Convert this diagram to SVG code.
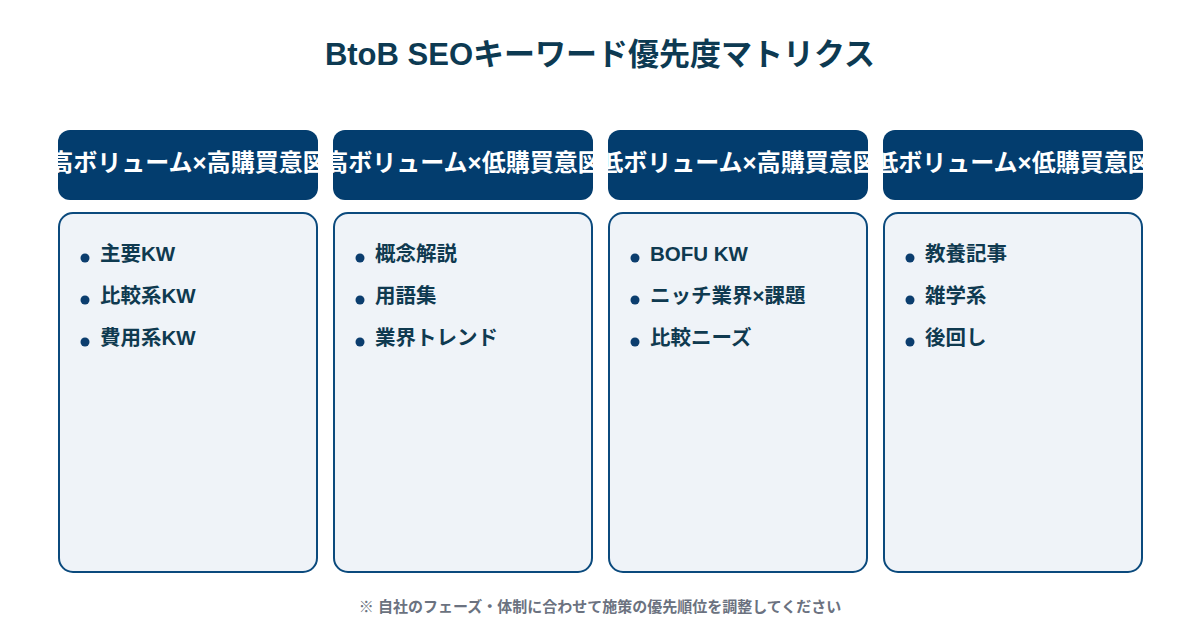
<svg xmlns="http://www.w3.org/2000/svg" width="1200" height="620" viewBox="0 0 1200 620">
<style>
text{font-family:"Liberation Sans","Noto Sans CJK JP",sans-serif;font-weight:700}
.title{font-size:31px;fill:#0d3a52}
.hd{fill:#033d6e}
.ht{font-size:24px;fill:#ffffff}
.body{fill:#eff3f8;stroke:#0b4a7d;stroke-width:2}
.dot{fill:#0b3d6e}
.it{font-size:20.5px;fill:#0f3a50}
.note{font-size:15px;fill:#6b7280}
</style>
<defs>
<clipPath id="c1"><rect x="58" y="130" width="260" height="70" rx="12"/></clipPath>
<clipPath id="c2"><rect x="333" y="130" width="260" height="70" rx="12"/></clipPath>
<clipPath id="c3"><rect x="608" y="130" width="260" height="70" rx="12"/></clipPath>
<clipPath id="c4"><rect x="883" y="130" width="260" height="70" rx="12"/></clipPath>
</defs>
<rect width="1200" height="620" fill="#ffffff"/>
<text class="title" x="600" y="65" text-anchor="middle">BtoB SEOキーワード優先度マトリクス</text>

<g id="col1">
<rect class="hd" x="58" y="130" width="260" height="70" rx="12"/>
<text class="ht" x="188" y="171" text-anchor="middle" clip-path="url(#c1)">高ボリューム×高購買意図</text>
<rect class="body" x="59" y="213" width="258" height="359" rx="14"/>
<circle class="dot" cx="85" cy="258" r="4.5"/><text class="it" x="100" y="261">主要KW</text>
<circle class="dot" cx="85" cy="300" r="4.5"/><text class="it" x="100" y="303">比較系KW</text>
<circle class="dot" cx="85" cy="342" r="4.5"/><text class="it" x="100" y="345">費用系KW</text>
</g>

<g id="col2">
<rect class="hd" x="333" y="130" width="260" height="70" rx="12"/>
<text class="ht" x="463" y="171" text-anchor="middle" clip-path="url(#c2)">高ボリューム×低購買意図</text>
<rect class="body" x="334" y="213" width="258" height="359" rx="14"/>
<circle class="dot" cx="360" cy="258" r="4.5"/><text class="it" x="375" y="261">概念解説</text>
<circle class="dot" cx="360" cy="300" r="4.5"/><text class="it" x="375" y="303">用語集</text>
<circle class="dot" cx="360" cy="342" r="4.5"/><text class="it" x="375" y="345">業界トレンド</text>
</g>

<g id="col3">
<rect class="hd" x="608" y="130" width="260" height="70" rx="12"/>
<text class="ht" x="738" y="171" text-anchor="middle" clip-path="url(#c3)">低ボリューム×高購買意図</text>
<rect class="body" x="609" y="213" width="258" height="359" rx="14"/>
<circle class="dot" cx="635" cy="258" r="4.5"/><text class="it" x="650" y="261">BOFU KW</text>
<circle class="dot" cx="635" cy="300" r="4.5"/><text class="it" x="650" y="303">ニッチ業界×課題</text>
<circle class="dot" cx="635" cy="342" r="4.5"/><text class="it" x="650" y="345">比較ニーズ</text>
</g>

<g id="col4">
<rect class="hd" x="883" y="130" width="260" height="70" rx="12"/>
<text class="ht" x="1013" y="171" text-anchor="middle" clip-path="url(#c4)">低ボリューム×低購買意図</text>
<rect class="body" x="884" y="213" width="258" height="359" rx="14"/>
<circle class="dot" cx="910" cy="258" r="4.5"/><text class="it" x="925" y="261">教養記事</text>
<circle class="dot" cx="910" cy="300" r="4.5"/><text class="it" x="925" y="303">雑学系</text>
<circle class="dot" cx="910" cy="342" r="4.5"/><text class="it" x="925" y="345">後回し</text>
</g>

<g id="connectors"></g>

<text class="note" x="600" y="612" text-anchor="middle">※ 自社のフェーズ・体制に合わせて施策の優先順位を調整してください</text>
</svg>
